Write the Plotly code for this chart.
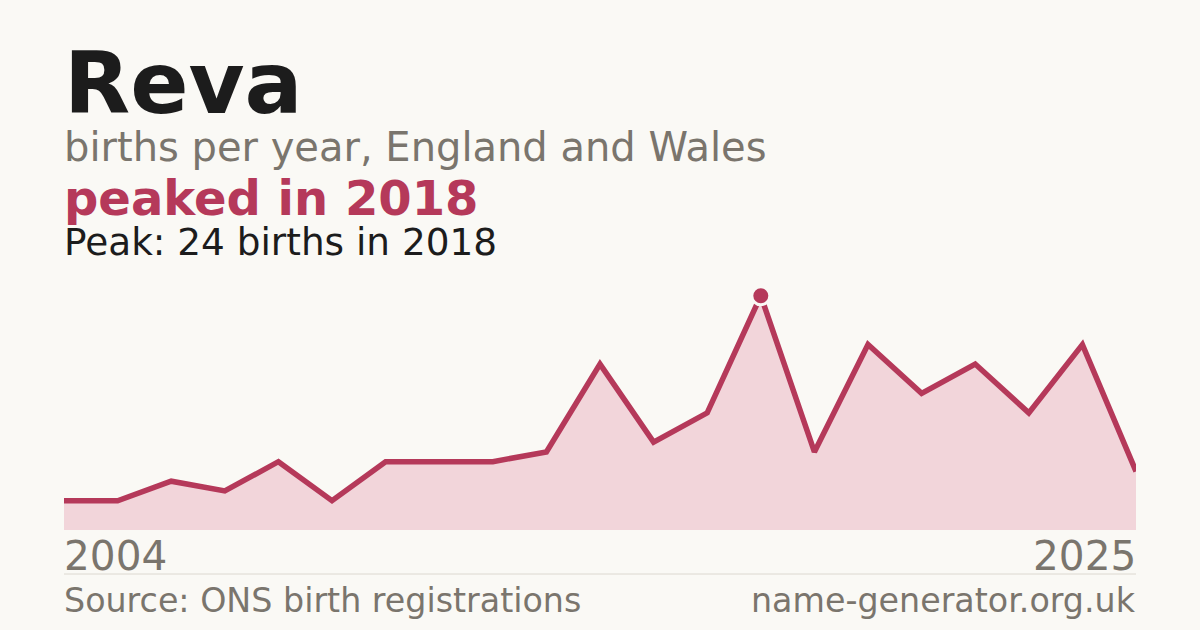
import plotly.graph_objects as go

# Data (21 plotted years; chart labels first and last only)
year_labels = ["2004", "2025"]
births = [3, 3, 5, 4, 7, 3, 7, 7, 7, 8, 17, 9, 12, 24, 8, 19, 14, 17, 12, 19, 6]
peak_value = 24
peak_year = "2018"

BG = "#faf9f5"
LINE = "#b5395a"
FILL = "#f2d5da"
GREY = "#7a756d"
DARK = "#1c1c1c"
FONT = "DejaVu Sans"

x = list(range(len(births)))
peak_idx = births.index(peak_value)

W, H = 1200, 630
L, R, T, B = 64, 64, 286, 100
plot_h = H - T - B

def py(pix):
    # convert pixel y (from top) to paper coordinate
    return (H - B - pix) / plot_h

fig = go.Figure()
fig.add_trace(go.Scatter(
    x=x, y=births, mode="lines",
    line=dict(color=LINE, width=5.5),
    fill="tozeroy", fillcolor=FILL,
    hoverinfo="skip", showlegend=False,
))
fig.add_trace(go.Scatter(
    x=[peak_idx], y=[peak_value], mode="markers",
    marker=dict(color=LINE, size=18, line=dict(color=BG, width=3)),
    hoverinfo="skip", showlegend=False, cliponaxis=False,
))

anns = [
    dict(text="<b>Reva</b>", y=py(83), size=86, color=DARK, x=0, xanchor="left"),
    dict(text="births per year, England and Wales", y=py(147), size=40, color=GREY, x=0, xanchor="left"),
    dict(text=f"<b>peaked in {peak_year}</b>", y=py(198), size=48, color=LINE, x=0, xanchor="left"),
    dict(text=f"Peak: {peak_value} births in {peak_year}", y=py(242), size=37.4, color=DARK, x=0, xanchor="left"),
    dict(text=year_labels[0], y=py(556), size=40.6, color=GREY, x=0, xanchor="left"),
    dict(text=year_labels[1], y=py(556), size=40.6, color=GREY, x=1, xanchor="right"),
    dict(text="Source: ONS birth registrations", y=py(600), size=33.3, color=GREY, x=0, xanchor="left"),
    dict(text="name-generator.org.uk", y=py(600), size=33.3, color=GREY, x=1, xanchor="right"),
]
annotations = []
for a in anns:
    annotations.append(dict(
        text=a["text"], x=a["x"], y=a["y"], xref="paper", yref="paper",
        xanchor=a["xanchor"], yanchor="middle", showarrow=False,
        font=dict(family=FONT, size=a["size"], color=a["color"]),
        borderpad=0, xshift=-1 if a["xanchor"] == "left" else 1,
    ))

fig.update_layout(
    width=W, height=H,
    margin=dict(l=L, r=R, t=T, b=B),
    paper_bgcolor=BG, plot_bgcolor=BG,
    xaxis=dict(range=[0, len(births) - 1], visible=False, fixedrange=True),
    yaxis=dict(range=[0, 25], visible=False, fixedrange=True),
    annotations=annotations,
    shapes=[dict(type="line", xref="paper", yref="paper", x0=0, x1=1,
                 y0=py(574), y1=py(574), line=dict(color="#dcd8d0", width=1))],
    font=dict(family=FONT),
)

fig.write_html(
    "out.html",
    config={"displayModeBar": False},
    post_script="document.body.style.margin='0';document.body.style.background='#faf9f5';",
)
